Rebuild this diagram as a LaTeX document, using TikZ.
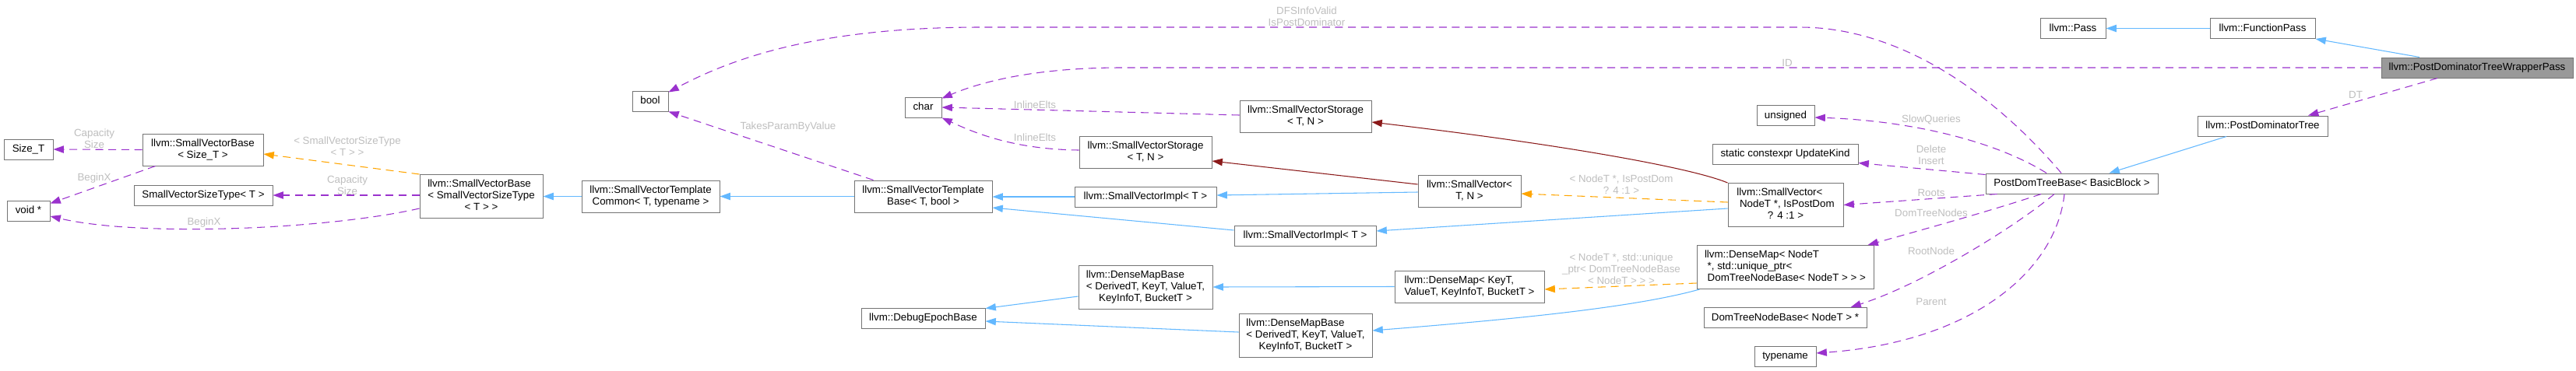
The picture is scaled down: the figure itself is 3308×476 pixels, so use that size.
\documentclass[tikz,border=0pt]{standalone}
\usepackage{fontspec}
\setmainfont{Liberation Sans}
\usepackage{xcolor}
\usepackage{tikz}
\usetikzlibrary{calc, arrows.meta}

\definecolor{memcol}{HTML}{9A32CD}
\definecolor{inhcol}{HTML}{63B8FF}
\definecolor{tplcol}{HTML}{FFA500}
\definecolor{prvcol}{HTML}{8B1A1A}
\definecolor{boxcol}{HTML}{747474}
\definecolor{lblcol}{HTML}{BEBEBE}
\definecolor{mainfill}{HTML}{999999}

% lines left, last line centred
\newcommand{\nlines}[1]{\begin{tabular}{@{}l@{}}#1\end{tabular}}
\newcommand{\lastln}[1]{\multicolumn{1}{@{}c@{}}{#1}}

\begin{document}
\begin{tikzpicture}[x=0.75pt, y=-0.75pt, >={Triangle[length=10pt, width=7pt]},
    cls/.style={draw=boxcol, line width=0.75pt, fill=white, inner xsep=0pt, inner ysep=0pt,
        font=\fontsize{10}{11.25}\selectfont},
    one/.style={minimum height=19.5pt, text height=7.5pt, text depth=2pt},
    two/.style={minimum height=30.75pt},
    three/.style={minimum height=42pt},
    wd/.style={minimum width=#1*0.75pt},
    lbl/.style={text=lblcol, inner sep=0pt, align=center, font=\fontsize{10}{11.25}\selectfont},
    mem/.style={->, memcol, line width=0.8pt, dash pattern=on 7.5pt off 5pt},
    tpl/.style={->, tplcol, line width=0.8pt, dash pattern=on 7.5pt off 5pt},
    inh/.style={->, inhcol, line width=0.8pt},
    prv/.style={->, prvcol, line width=0.8pt}]
    \useasboundingbox (0,0) rectangle (3308,476);

    % Các lớp
    \node[cls, one, wd=63] (sizeT) at (36.5,192) {Size\_T};
    \node[cls, one, wd=55] (voidp) at (36.5,271) {void *};
    \node[cls, two, wd=155] (svbSize) at (260.5,192.5) {\nlines{llvm::SmallVectorBase\\\lastln{< Size\_T >}}};
    \node[cls, one, wd=178] (svst) at (261,251) {SmallVectorSizeType< T >};
    \node[cls, three, wd=158] (svbSVST) at (618,252.5) {\nlines{llvm::SmallVectorBase\\< SmallVectorSizeType\\\lastln{< T > >}}};
    \node[cls, two, wd=177] (svtc) at (835.5,252.5) {\nlines{llvm::SmallVectorTemplate\\\lastln{Common< T, typename >}}};
    \node[cls, one, wd=46] (boolN) at (835,130) {bool};
    \node[cls, one, wd=47] (charN) at (1185.5,138) {char};
    \node[cls, two, wd=177] (svtb) at (1185.5,252.5) {\nlines{llvm::SmallVectorTemplate\\\lastln{Base< T, bool >}}};
    \node[cls, two, wd=169] (svsA) at (1676.5,149.5) {\nlines{llvm::SmallVectorStorage\\\lastln{< T, N >}}};
    \node[cls, two, wd=170] (svsB) at (1471,195.5) {\nlines{llvm::SmallVectorStorage\\\lastln{< T, N >}}};
    \node[cls, one, wd=182] (sviA) at (1471,253) {llvm::SmallVectorImpl< T >};
    \node[cls, two, wd=132] (svTN) at (1887,245.5) {\nlines{llvm::SmallVector<\\\lastln{T, N >}}};
    \node[cls, one, wd=182] (sviB) at (1676,303) {llvm::SmallVectorImpl< T >};
    \node[cls, three, wd=172] (dmbA) at (1471,369) {\nlines{llvm::DenseMapBase\\< DerivedT, KeyT, ValueT,\\\lastln{KeyInfoT, BucketT >}}};
    \node[cls, one, wd=159] (epoch) at (1185.5,409) {llvm::DebugEpochBase};
    \node[cls, two, wd=192] (dmKey) at (1887,368.5) {\nlines{llvm::DenseMap< KeyT,\\\lastln{ValueT, KeyInfoT, BucketT >}}};
    \node[cls, three, wd=171] (dmbB) at (1676.5,431) {\nlines{llvm::DenseMapBase\\< DerivedT, KeyT, ValueT,\\\lastln{KeyInfoT, BucketT >}}};
    \node[cls, one, wd=74] (unsignedN) at (2293,148.5) {unsigned};
    \node[cls, one, wd=187] (updKind) at (2292.5,198) {static constexpr UpdateKind};
    \node[cls, three, wd=148] (svNode) at (2293,263.5) {\nlines{llvm::SmallVector<\\\ NodeT *, IsPostDom\\\lastln{? 4 :1 >}}};
    \node[cls, three, wd=227] (dmNode) at (2292.5,343.5) {\nlines{llvm::DenseMap< NodeT\\\ *, std::unique\_ptr<\\\ DomTreeNodeBase< NodeT > > >}};
    \node[cls, one, wd=209] (dtnb) at (2292.5,408.5) {DomTreeNodeBase< NodeT > *};
    \node[cls, one, wd=79] (typenameN) at (2292.5,458) {typename};
    \node[cls, one, wd=221] (pdtb) at (2660.5,236) {PostDomTreeBase< BasicBlock >};
    \node[cls, one, wd=84] (pass) at (2662,36.5) {llvm::Pass};
    \node[cls, one, wd=135] (fpass) at (2905.5,36.5) {llvm::FunctionPass};
    \node[cls, one, wd=246, fill=mainfill] (wrap) at (3181,87) {llvm::PostDominatorTreeWrapperPass};
    \node[cls, one, wd=167] (pdt) at (2905.5,162) {llvm::PostDominatorTree};

    % Kế thừa
    \draw[inh] (fpass.west) -- (pass.east);
    \draw[inh] ($(wrap.north)+(-74,0)$) -- (fpass.south east);
    \draw[inh] ($(pdt.south)+(-46.5,0)$) -- ($(pdtb.north east)+(-63,0)$);
    \draw[inh] (svtc.west) -- (svbSVST.east);
    \draw[inh] (svtb.west) -- (svtc.east);
    \draw[inh] (sviA.west) -- ($(svtb.east)+(0,0.5)$);
    \draw[inh] ($(sviB.west)+(0,-7)$) -- ($(svtb.east)+(0,14.5)$);
    \draw[inh] ($(svTN.west)+(0,1.5)$) -- ($(sviA.east)+(0,-2)$);
    \draw[inh] ($(svNode.west)+(0,4.5)$) -- ($(sviB.east)+(0,-6)$);
    \draw[inh] ($(dmbA.west)+(0,12)$) -- ($(epoch.north east)+(0,1)$);
    \draw[inh] ($(dmbB.west)+(0,-4)$) -- ($(epoch.east)+(0,4)$);
    \draw[inh] (dmKey.west) -- (dmbA.east);
    \draw[inh] ($(dmNode.south west)+(4,0)$) .. controls (2100,395) and (1950,410) .. ($(dmbB.east)+(0,-6)$);
    \draw[prv] ($(svTN.west)+(0,-8.5)$) -- ($(svsB.east)+(0,11.5)$);
    \draw[prv] (svNode.north west) .. controls (2170,215) and (2000,185) .. ($(svsA.east)+(0,7.5)$);

    % Tham số mẫu
    \draw[tpl] (svbSVST.north west) -- ($(svbSize.east)+(0,5.5)$);
    \draw[tpl] ($(svNode.west)+(0,-3.5)$) -- ($(svTN.east)+(0,3.5)$);
    \draw[tpl] ($(dmNode.west)+(0,20.5)$) -- ($(dmKey.east)+(0,3.5)$);

    % Thành viên
    \draw[mem] (svbSize.west) -- (sizeT.east);
    \draw[mem] ($(svbSize.south west)+(17,0)$) -- ($(voidp.north east)+(0,4)$);
    \draw[mem] ($(svbSVST.west)+(0,-1.5)$) -- (svst.east);
    \draw[mem] ($(svbSVST.west)+(0,15.5)$) .. controls (420,295) and (180,305) .. ($(voidp.east)+(0,7)$);
    \draw[mem] ($(svtb.north west)+(25,0)$) -- (boolN.south east);
    \draw[mem] ($(svsA.west)+(0,-1.5)$) -- (charN.east);
    \draw[mem] ($(svsB.west)+(0,-2.5)$) .. controls (1300,192) and (1250,170) .. (charN.south east);
    \draw[mem] ($(pdtb.north)+(-13.5,0)$) .. controls (2560,120) and (2440,35) .. (2311,35)
        -- (1260,35) .. controls (1050,35) and (940,75) .. ($(boolN.north east)+(0,2)$);
    \draw[mem] (wrap.west) -- (1440,87) .. controls (1330,87) and (1260,105) .. ($(charN.north east)+(0,2)$);
    \draw[mem] ($(wrap.south)+(-51,0)$) -- ($(pdt.north)+(58.5,0)$);
    \draw[mem] ($(pdtb.north)+(-32.5,0)$) .. controls (2560,180) and (2450,155) .. ($(unsignedN.east)+(0,2.5)$);
    \draw[mem] ($(pdtb.north west)+(0,2)$) -- ($(updKind.south east)+(0,-2)$);
    \draw[mem] ($(pdtb.south west)+(15,0)$) -- (svNode.east);
    \draw[mem] ($(pdtb.south)+(-39.5,0)$) .. controls (2560,270) and (2470,295) .. ($(dmNode.north east)+(-8,0)$);
    \draw[mem] ($(pdtb.south)+(-22.5,0)$) .. controls (2590,290) and (2470,365) .. ($(dtnb.north east)+(-21,0)$);
    \draw[mem] ($(pdtb.south)+(-9.5,0)$) .. controls (2640,350) and (2530,440) .. ($(typenameN.east)+(0,-4)$);

    % Nhãn
    \node[lbl] (lCapA) at (121,178.5) {Capacity\\Size};
    \node[lbl] (lBeginA) at (121,229) {BeginX};
    \node[lbl] (lTplA) at (446,188) {< SmallVectorSizeType\\< T > >};
    \node[lbl] (lCapB) at (446,238.5) {Capacity\\Size};
    \node[lbl] (lBeginB) at (262,286) {BeginX};
    \node[lbl] (lTakes) at (1012,163) {TakesParamByValue};
    \node[lbl] (lInlA) at (1329,135) {InlineElts};
    \node[lbl] (lInlB) at (1329,177) {InlineElts};
    \node[lbl] (lDfs) at (1678,21) {DFSInfoValid\\IsPostDominator};
    \node[lbl] (lTplB) at (2082,237) {< NodeT *, IsPostDom\\? 4 :1 >};
    \node[lbl] (lTplC) at (2082,346) {< NodeT *, std::unique\\\_ptr< DomTreeNodeBase\\< NodeT > > >};
    \node[lbl] (lID) at (2295,81) {ID};
    \node[lbl] (lSlow) at (2480,154) {SlowQueries};
    \node[lbl] (lDel) at (2480,199.5) {Delete\\Insert};
    \node[lbl] (lRoots) at (2480,248) {Roots};
    \node[lbl] (lDTN) at (2480,274) {DomTreeNodes};
    \node[lbl] (lRootN) at (2480,323) {RootNode};
    \node[lbl] (lPar) at (2480,388) {Parent};
    \node[lbl] (lDT) at (3025,122) {DT};
\end{tikzpicture}
\end{document}
